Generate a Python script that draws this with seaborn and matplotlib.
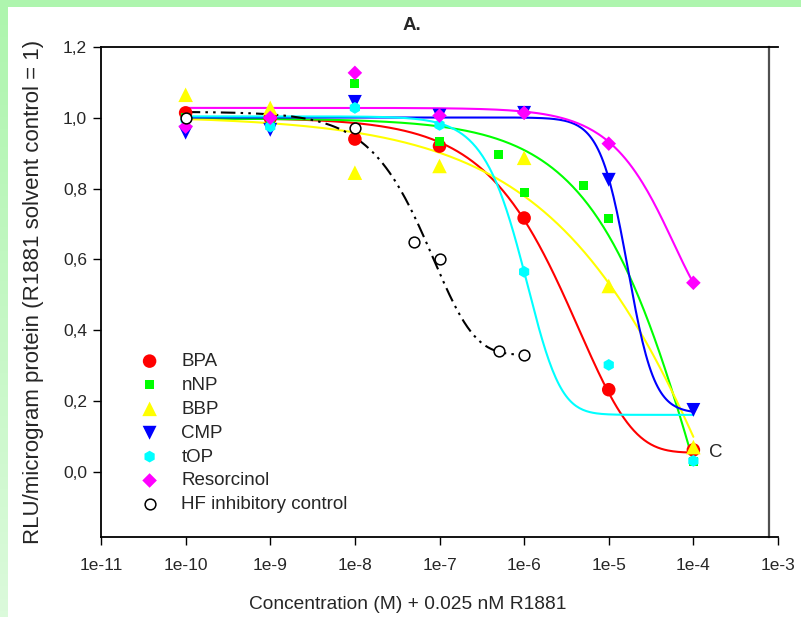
import numpy as np
import pandas as pd
import matplotlib
matplotlib.use("Agg")
import matplotlib.pyplot as plt
import seaborn as sns

# measured points
conc = [1e-10, 1e-9, 1e-8, 1e-7, 1e-6, 1e-5, 1e-4]
bpa = [1.014, 1.00, 0.94, 0.92, 0.717, 0.232, 0.062]
nnp_conc = [1e-10, 1e-9, 1e-8, 1e-7, 5e-7, 1e-6, 5e-6, 1e-5, 1e-4]
nnp = [1.0, 0.995, 1.096, 0.932, 0.895, 0.79, 0.808, 0.715, 0.028]
bbp = [1.065, 1.028, 0.845, 0.864, 0.887, 0.525, 0.07]
cmp_ = [0.958, 0.966, 1.045, 1.006, 1.014, 0.825, 0.175]
top = [0.995, 0.975, 1.028, 0.98, 0.565, 0.302, 0.031]
resorcinol = [0.975, 1.0, 1.127, 1.006, 1.014, 0.927, 0.534]
hf_conc = [1e-10, 1e-8, 5e-8, 1e-7, 5e-7, 1e-6]
hf = [1.0, 0.972, 0.65, 0.60, 0.34, 0.33]

names = ["BPA", "nNP", "BBP", "CMP", "tOP", "Resorcinol", "HF inhibitory control"]

# fitted dose-response curves (5-parameter logistic, log10 concentration)
curve_top = [1.000, 0.998, 1.006, 1.001, 1.004, 1.028, 1.017]
curve_bottom = [0.054, -0.867, -1.000, 0.165, 0.161, 0.421, 0.330]
curve_x50 = [-5.586, -4.045, -3.824, -4.781, -6.019, -4.391, -7.203]
curve_hill = [0.682, 0.611, 0.351, 2.604, 1.557, 0.998, 1.021]
curve_asym = [50, 3.282, 50, 1.151, 2.491, 50, 6.614]
curve_start = [1e-10] * 7
curve_end = [1e-4, 1e-4, 1e-4, 1e-4, 1e-4, 1e-4, 1e-6]

colors = ["#ff0000", "#00ff00", "#ffff00", "#0000ff", "#00ffff", "#ff00ff", "black"]
markers = ["o", "s", "^", "v", "h", "D", "o"]
sizes = [95, 42, 110, 100, 72, 55, 60]
xs = [conc, nnp_conc, conc, conc, conc, conc, hf_conc]
ys = [bpa, nnp, bbp, cmp_, top, resorcinol, hf]


def logistic5(x, a, d, x50, h, s):
    k = 2 ** (1 / s) - 1
    return d + (a - d) / (1 + k * 10 ** ((x - x50) * h)) ** s


sns.set_style("white")
plt.rcParams["font.family"] = ["Liberation Sans", "DejaVu Sans"]

fig = plt.figure(figsize=(8.01, 6.17), dpi=100, facecolor="#aef5ae")
fig.patches.append(plt.Rectangle((8 / 801, 0), 1, 1 - 7 / 617, transform=fig.transFigure,
                                 facecolor="white", edgecolor="none", zorder=-1))
strip = fig.add_axes([0, 0, 8 / 801, 1 - 7 / 617])
strip.imshow(np.linspace(0, 1, 100)[:, None], aspect="auto",
             cmap=matplotlib.colors.LinearSegmentedColormap.from_list("g", ["#aef5ae", "#dbfadb"]))
strip.axis("off")

ax = fig.add_axes([101 / 801, 80 / 617, 677 / 801, 490 / 617])

for i, n in enumerate(names):
    lx = np.linspace(np.log10(curve_start[i]), np.log10(curve_end[i]), 300)
    yy = logistic5(lx, curve_top[i], curve_bottom[i], curve_x50[i], curve_hill[i], curve_asym[i])
    ls = (0, (7, 2.5, 1.2, 2.5, 1.2, 2.5)) if i == 6 else "-"
    sns.lineplot(x=10 ** lx, y=yy, ax=ax, color=colors[i], lw=1.5, ls=ls, zorder=2)

for i, n in enumerate(names):
    df = pd.DataFrame({"x": xs[i], "y": ys[i]})
    if i == 6:
        sns.scatterplot(data=df, x="x", y="y", ax=ax, marker="o", s=sizes[i], facecolor="white",
                        edgecolor="black", linewidth=1.1, label=n, zorder=3 + i)
    else:
        sns.scatterplot(data=df, x="x", y="y", ax=ax, marker=markers[i], s=sizes[i], color=colors[i],
                        edgecolor="none", label=n, zorder=3 + i)

ax.set_xscale("log")
ax.set_xlim(1e-11, 1e-3)
ax.set_ylim(-0.184, 1.2)
ax.set_xticks([10.0 ** e for e in range(-11, -2)])
ax.set_xticklabels([f"1e{e}" for e in range(-11, -2)])
ax.xaxis.set_minor_locator(matplotlib.ticker.NullLocator())
yt = [0.0, 0.2, 0.4, 0.6, 0.8, 1.0, 1.2]
ax.set_yticks(yt)
ax.set_yticklabels([f"{v:.1f}".replace(".", ",") for v in yt])
ax.tick_params(axis="both", direction="out", length=6, width=1, labelsize=12.5, color="black",
               left=True, bottom=True)
ax.tick_params(axis="x", pad=9)
ax.tick_params(axis="y", pad=4)
for sp in ["left", "bottom", "top"]:
    ax.spines[sp].set_color("black")
    ax.spines[sp].set_linewidth(1.3)
ax.spines["right"].set_position(("data", 7.9e-4))
ax.spines["right"].set_color("#505050")
ax.spines["right"].set_linewidth(1.6)

ax.set_xlabel("Concentration (M) + 0.025 nM R1881", fontsize=13.8, labelpad=17)
ax.xaxis.label.set_x(0.4535)
ax.set_ylabel("RLU/microgram protein (R1881 solvent control = 1)", fontsize=16, labelpad=14)
ax.annotate("C", xy=(1e-4, 0.054), xytext=(11, 0), textcoords="offset points", va="center",
            ha="left", fontsize=13.5)
fig.text(0.514, 0.958, "A.", fontsize=13.5, fontweight="bold", ha="center", va="center")

ax.legend(loc="upper left", bbox_to_anchor=(0.033, 0.391), frameon=False, fontsize=13.5,
          handletextpad=0.7, labelspacing=0.36, borderaxespad=0)

fig.savefig("out.png", dpi=100, facecolor=fig.get_facecolor())
